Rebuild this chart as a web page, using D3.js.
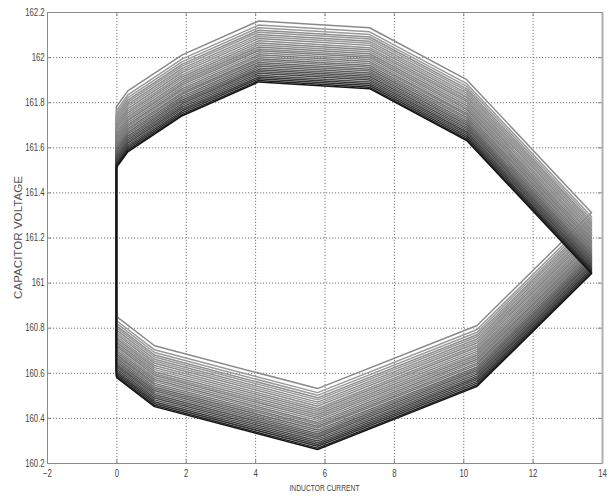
<!DOCTYPE html>
<html>
<head>
<meta charset="utf-8">
<script src="https://cdn.jsdelivr.net/npm/d3@7/dist/d3.min.js"></script>
<style>
  body { margin: 0; background: #fff; }
  text { font-family: "Liberation Sans", Arial, sans-serif; }
</style>
</head>
<body>
<div id="figure"></div>
<script>
// axis ticks
const xTicks = [-2, 0, 2, 4, 6, 8, 10, 12, 14]
const yTicks = [160.2, 160.4, 160.6, 160.8, 161, 161.2, 161.4, 161.6, 161.8, 162, 162.2]
const yTickLabels = ['160.2', '160.4', '160.6', '160.8', '161', '161.2', '161.4', '161.6', '161.8', '162', '162.2']

// vertices of the top (first) loop: inductor current / capacitor voltage
const loopCurrent = [0, 0, 0.33, 1.9, 4.1, 7.3, 10.1, 13.7, 10.4, 5.8, 1.1, 0]
const loopVoltage = [160.85, 161.78, 161.85, 162.01, 162.16, 162.13, 161.90, 161.31, 160.81, 160.53, 160.72, 160.85]

// how far each following loop sits below the first one (volts), and its grey
const loopShift = [0, -0.018, -0.03, -0.041, -0.05, -0.06, -0.069, -0.078, -0.088, -0.097,
  -0.106, -0.115, -0.124, -0.132, -0.141, -0.15, -0.158, -0.167, -0.175, -0.184,
  -0.192, -0.2, -0.208, -0.216, -0.224, -0.232, -0.24, -0.248, -0.256, -0.264, -0.27]
const loopGray = ['#8a8a8a', '#999', '#9a9a9a', '#8e8e8e', '#969696', '#8c8c8c', '#999', '#888', '#8e8e8e', '#858585',
  '#909090', '#808080', '#8a8a8a', '#7c7c7c', '#868686', '#777', '#808080', '#707070', '#777', '#666',
  '#6c6c6c', '#5c5c5c', '#626262', '#505050', '#585858', '#444', '#4a4a4a', '#383838', '#2e2e2e', '#222', '#151515']

const width = 610
const height = 497
const margin = { TOP: 12, LEFT: 47, RIGHT: 8, BOTTOM: 34 }

const svg = d3.select('#figure').append('svg')
  .attr('width', width).attr('height', height)
  .attr('style', 'background:white')

const x = d3.scaleLinear().domain([-2, 14]).range([margin.LEFT, width - margin.RIGHT])
const y = d3.scaleLinear().domain([160.2, 162.2]).range([height - margin.BOTTOM, margin.TOP])

const plotW = width - margin.RIGHT - margin.LEFT
const plotH = height - margin.BOTTOM - margin.TOP

/**
 * grid
 */
const grid = svg.append('g').attr('stroke-dasharray', '1.2,1.8')
grid.append('g').attr('transform', `translate(0,${y(160.2)})`)
  .call(d3.axisBottom(x).tickValues(xTicks.slice(1, -1)).tickSize(-plotH).tickFormat(''))
grid.append('g').attr('transform', `translate(${x(-2)},0)`)
  .call(d3.axisLeft(y).tickValues(yTicks.slice(1, -1)).tickSize(-plotW).tickFormat(''))
grid.selectAll('.domain').remove()
grid.selectAll('line').attr('stroke', '#777').attr('stroke-width', 1)

/**
 * loops
 */
const line = d3.line().x(d => x(d[0])).y(d => y(d[1]))
const loops = svg.append('g').attr('fill', 'none').attr('stroke-width', 1.5).attr('stroke-linejoin', 'round')
loopShift.forEach((s, i) => {
  const pts = loopCurrent.map((c, k) => [c, loopVoltage[k] + s])
  loops.append('path').attr('d', line(pts)).attr('stroke', loopGray[i])
})

/**
 * axes and box
 */
const axisStyle = g => {
  g.selectAll('.domain').attr('stroke', '#8a8a8a')
  g.selectAll('.tick line').attr('stroke', '#8a8a8a')
  g.selectAll('text').attr('fill', '#444').attr('font-size', 10)
}
const squeeze = g => g.selectAll('text').attr('transform', 'scale(0.78,1)')

svg.append('g').attr('transform', `translate(0,${y(160.2)})`)
  .call(d3.axisBottom(x).tickValues(xTicks).tickSizeInner(-4).tickSizeOuter(0).tickPadding(7))
  .call(axisStyle).call(squeeze)
  .selectAll('text').attr('x', d => 0)
svg.append('g').attr('transform', `translate(${x(-2)},0)`)
  .call(d3.axisLeft(y).tickValues(yTicks).tickFormat((d, i) => yTickLabels[i]).tickSizeInner(-4).tickSizeOuter(0).tickPadding(3))
  .call(axisStyle).call(squeeze)
svg.append('g').attr('transform', `translate(0,${y(162.2)})`)
  .call(d3.axisTop(x).tickValues(xTicks).tickSizeInner(-4).tickSizeOuter(0).tickFormat(''))
  .call(axisStyle)
svg.append('g').attr('transform', `translate(${x(14)},0)`)
  .call(d3.axisRight(y).tickValues(yTicks).tickSizeInner(-4).tickSizeOuter(0).tickFormat(''))
  .call(axisStyle)
  .select('.domain').attr('stroke', '#b0b0b0').attr('stroke-width', 2)

/**
 * labels
 */
svg.append('text').text('INDUCTOR CURRENT')
  .attr('x', (x(-2) + x(14)) / 2).attr('y', 491)
  .attr('text-anchor', 'middle').attr('font-size', 9).attr('fill', '#444')
  .attr('textLength', 70).attr('lengthAdjust', 'spacingAndGlyphs')
svg.append('text').text('CAPACITOR VOLTAGE')
  .attr('transform', `translate(22,${(y(160.2) + y(162.2)) / 2}) rotate(-90)`)
  .attr('text-anchor', 'middle').attr('font-size', 10).attr('fill', '#555')
  .attr('textLength', 123).attr('lengthAdjust', 'spacingAndGlyphs')
</script>
</body>
</html>
